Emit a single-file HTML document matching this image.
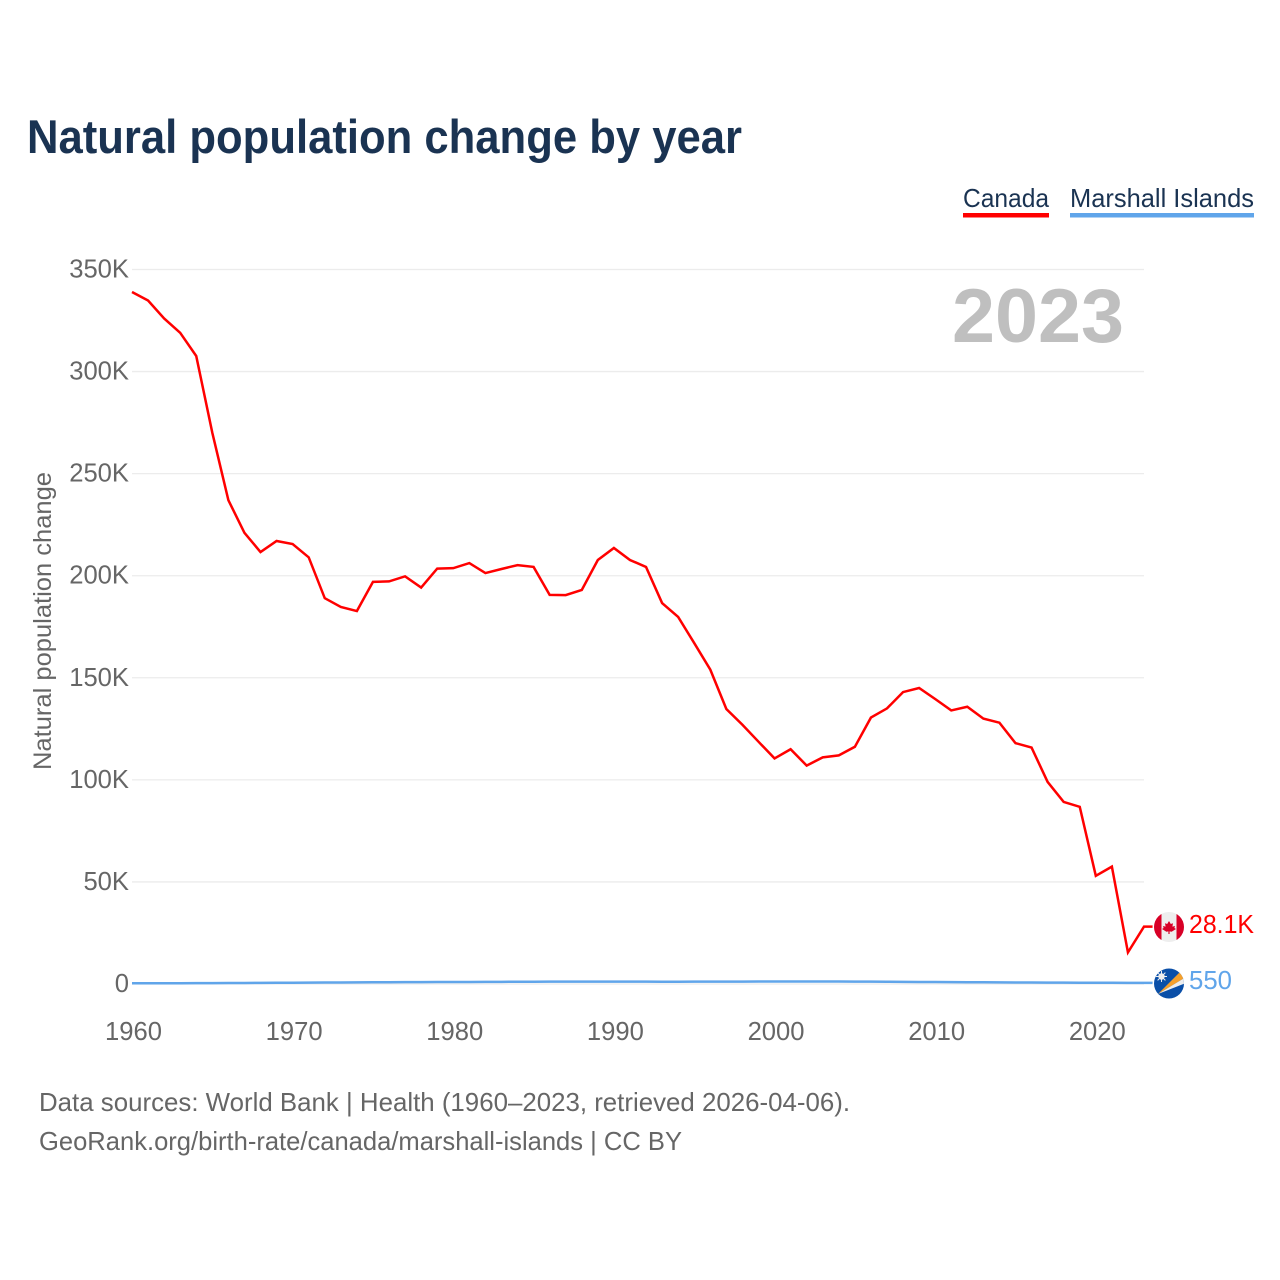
<!DOCTYPE html>
<html lang="en">
<head>
<meta charset="utf-8">
<title>Natural population change by year</title>
<style>
html,body{margin:0;padding:0;background:#fff;width:1280px;height:1280px;overflow:hidden}
svg{display:block}
text{font-family:"Liberation Sans",sans-serif}
.tick{font-size:25.6px;fill:#666}
.foot{font-size:26px;fill:#666}
</style>
</head>
<body>
<svg id="chart" width="1280" height="1280" viewBox="0 0 1280 1280" xmlns="http://www.w3.org/2000/svg">
  <defs>
    <clipPath id="flag-clip-ca"><circle cx="1169" cy="927" r="15"/></clipPath>
    <clipPath id="flag-clip-mh"><circle cx="1169" cy="983.5" r="15"/></clipPath>
  </defs>
  <text x="27" y="153" font-size="47" font-weight="700" fill="#1a3352" textLength="715" lengthAdjust="spacingAndGlyphs">Natural population change by year</text>

  <g>
    <text x="963" y="207" font-size="26" fill="#1a3352" textLength="86" lengthAdjust="spacingAndGlyphs">Canada</text>
    <rect x="963" y="213" width="86" height="4.5" fill="#ff0000"/>
  </g>
  <g>
    <text x="1070" y="207" font-size="26" fill="#1a3352" textLength="184" lengthAdjust="spacingAndGlyphs">Marshall Islands</text>
    <rect x="1070" y="213" width="184" height="4.5" fill="#60a5ea"/>
  </g>

  <g id="grid"></g>
  <g id="y-ticks"></g>
  <g id="x-ticks"></g>

  <text transform="translate(51,621) rotate(-90)" text-anchor="middle" font-size="25" fill="#666" textLength="298" lengthAdjust="spacingAndGlyphs">Natural population change</text>

  <text x="952" y="342" font-size="76" font-weight="700" fill="#bfbfbf" textLength="172" lengthAdjust="spacingAndGlyphs">2023</text>

  <g id="series"></g>

  <g id="flag-canada">
    <circle cx="1169" cy="927" r="16.5" fill="#fff"/>
    <g clip-path="url(#flag-clip-ca)">
      <rect x="1154" y="912" width="30" height="30" fill="#eeeeee"/>
      <rect x="1154" y="912" width="7.5" height="30" fill="#d80027"/>
      <rect x="1176.5" y="912" width="7.5" height="30" fill="#d80027"/>
      <polygon fill="#d80027" points="1169,921 1170.8,924 1173,923.2 1172.4,926.6 1175,926 1174.4,928 1176,929 1171.6,931.8 1169.6,931.4 1169.6,934 1168.4,934 1168.4,931.4 1166.4,931.8 1162,929 1163.6,928 1163,926 1165.6,926.6 1165,923.2 1167.2,924"/>
    </g>
  </g>
  <g id="flag-marshall">
    <circle cx="1169" cy="983.5" r="16.5" fill="#fff"/>
    <g clip-path="url(#flag-clip-mh)">
      <rect x="1154" y="968" width="30" height="31" fill="#0a4fa8"/>
      <polygon fill="#f5a02c" points="1158,994 1180,972 1186,977"/>
      <polygon fill="#eeeeee" points="1158,994 1186,977 1186,983"/>
      <circle cx="1161.5" cy="976.5" r="3.2" fill="#eeeeee"/>
      <path d="M1161.5 971v11M1156 976.5h11M1157.6 972.6l7.8 7.8M1165.4 972.6l-7.8 7.8" stroke="#eeeeee" stroke-width="1" fill="none"/>
    </g>
  </g>

  <text id="value-canada" x="1189" y="933" font-size="25.6" fill="#ff0000" textLength="65" lengthAdjust="spacingAndGlyphs">28.1K</text>
  <text id="value-marshall" x="1189" y="989" font-size="25.6" fill="#60a5ea" textLength="43" lengthAdjust="spacingAndGlyphs">550</text>

  <text class="foot" x="39" y="1111" textLength="811" lengthAdjust="spacingAndGlyphs">Data sources: World Bank | Health (1960–2023, retrieved 2026-04-06).</text>
  <text class="foot" x="39" y="1150" textLength="643" lengthAdjust="spacingAndGlyphs">GeoRank.org/birth-rate/canada/marshall-islands | CC BY</text>
</svg>
<script>
const years = [1960,1961,1962,1963,1964,1965,1966,1967,1968,1969,1970,1971,1972,1973,1974,1975,1976,1977,1978,1979,1980,1981,1982,1983,1984,1985,1986,1987,1988,1989,1990,1991,1992,1993,1994,1995,1996,1997,1998,1999,2000,2001,2002,2003,2004,2005,2006,2007,2008,2009,2010,2011,2012,2013,2014,2015,2016,2017,2018,2019,2020,2021,2022,2023];
const canadaValues = [339000,334800,326000,319000,307600,270000,237000,221000,211600,217000,215500,209000,189000,184700,182700,197000,197200,199700,194200,203500,203700,206200,201300,203300,205200,204300,190600,190500,193000,207700,213600,207700,204300,186600,179800,167000,154000,134700,127000,118700,110500,115000,107000,111000,112000,116200,130500,135000,143000,145000,139600,134000,135800,130000,128000,118000,115800,99000,89200,86800,53000,57500,15500,28100];
const marshallValues = [350,360,370,390,420,450,480,510,550,590,630,670,710,750,790,830,860,890,920,950,980,1010,1040,1060,1090,1120,1150,1160,1170,1180,1190,1170,1150,1130,1130,1140,1160,1180,1190,1200,1200,1200,1200,1200,1200,1190,1180,1130,1060,1000,960,920,880,840,800,760,720,690,660,640,620,600,570,550];
const yTickValues = [0,50000,100000,150000,200000,250000,300000,350000];
const yTickLabels = ["0","50K","100K","150K","200K","250K","300K","350K"];
const xTickValues = [1960,1970,1980,1990,2000,2010,2020];

const NS = 'http://www.w3.org/2000/svg';
const plotLeft = 132, plotRight = 1144, plotTop = 269.5, plotBottom = 984;
const xMin = 1960, xMax = 2023, yMax = 350000;
function xScale(v){ return plotLeft + (v - xMin) / (xMax - xMin) * (plotRight - plotLeft); }
function yScale(v){ return plotBottom - v / yMax * (plotBottom - plotTop); }
function svgEl(tag, attrs){
  const el = document.createElementNS(NS, tag);
  for (const k in attrs) el.setAttribute(k, attrs[k]);
  return el;
}
const gridG = document.getElementById('grid');
const yG = document.getElementById('y-ticks');
const xG = document.getElementById('x-ticks');
const seriesG = document.getElementById('series');

yTickValues.forEach(function(v, i){
  const line = svgEl('line', {x1: plotLeft, x2: plotRight, y1: yScale(v), y2: yScale(v), stroke: '#ececec', 'stroke-width': 1.3});
  
  
  gridG.appendChild(line);
  const t = svgEl('text', {x: 129, y: yScale(v) + 8, 'text-anchor': 'end', class: 'tick'});
  
  
  t.textContent = yTickLabels[i];
  yG.appendChild(t);
});
xTickValues.forEach(function(v){
  const t = svgEl('text', {x: xScale(v) + 1.5, y: 1040, 'text-anchor': 'middle', class: 'tick'});
  
  
  t.textContent = String(v);
  xG.appendChild(t);
});
function linePoints(values){
  const pts = values.map(function(v, i){ return xScale(years[i]).toFixed(2) + ',' + yScale(v).toFixed(2); });
  pts.push('1155,' + yScale(values[values.length - 1]).toFixed(2));
  return pts.join(' ');
}
const marshallLine = svgEl('polyline', {points: linePoints(marshallValues), fill: 'none', stroke: '#60a5ea', 'stroke-width': 2.5, 'stroke-linejoin': 'round'});


seriesG.appendChild(marshallLine);
const canadaLine = svgEl('polyline', {points: linePoints(canadaValues), fill: 'none', stroke: '#ff0000', 'stroke-width': 2.5, 'stroke-linejoin': 'miter'});


seriesG.appendChild(canadaLine);
</script>
</body>
</html>
